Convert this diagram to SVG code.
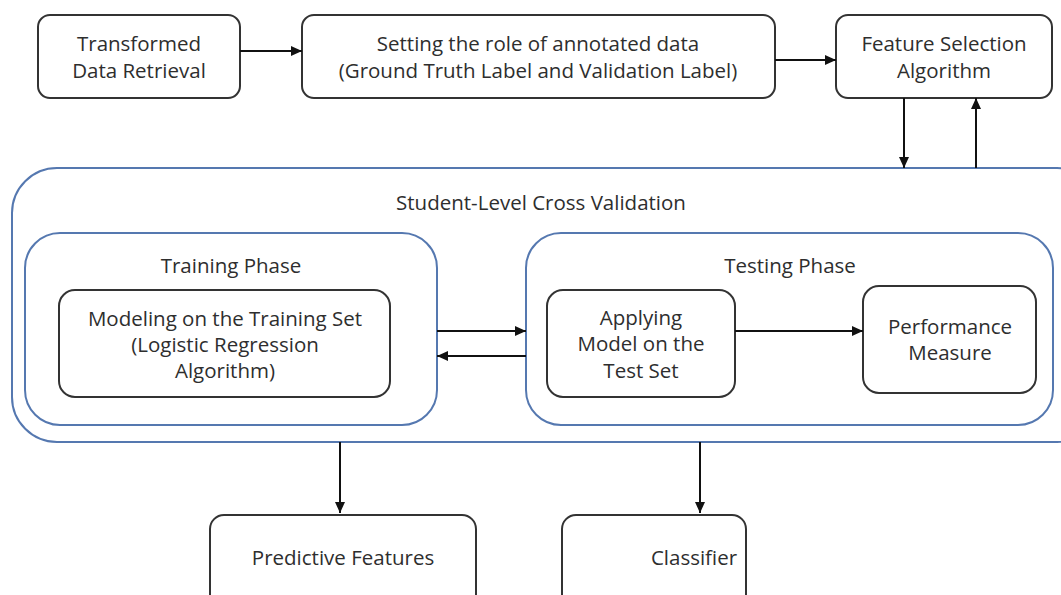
<svg xmlns="http://www.w3.org/2000/svg" width="1061" height="595" viewBox="0 0 1061 595">
<defs>
<marker id="ah" markerWidth="12" markerHeight="12" refX="11" refY="6" orient="auto" markerUnits="userSpaceOnUse">
<path d="M0,1 L11,6 L0,11 Z" fill="#111"/>
</marker>
<style>
.box{fill:#fff;stroke:#333;stroke-width:2}
.grp{fill:none;stroke:#5578b0;stroke-width:2}
.t{font-family:"Open Sans","Liberation Sans",Arial,sans-serif;font-size:20.5px;fill:#2e2e2e;text-anchor:middle}
.c{fill:none;stroke:#111;stroke-width:2;marker-end:url(#ah)}
</style>
</defs>
<rect width="1061" height="595" fill="#fff"/>
<g id="cross-validation">
<rect class="grp" x="12" y="168" width="1090" height="274" rx="45"/>
<text class="t" x="541" y="210">Student-Level Cross Validation</text>
</g>
<g id="training-phase">
<rect class="grp" x="25" y="233" width="412" height="192" rx="35"/>
<text class="t" x="231" y="273">Training Phase</text>
</g>
<g id="testing-phase">
<rect class="grp" x="526" y="233" width="527" height="192" rx="35"/>
<text class="t" x="790" y="273">Testing Phase</text>
</g>
<g id="transformed">
<rect class="box" x="38" y="15" width="202" height="83" rx="12"/>
<text class="t" x="139" y="51">Transformed</text>
<text class="t" x="139" y="78">Data Retrieval</text>
</g>
<g id="setting-role">
<rect class="box" x="302" y="15" width="473" height="83" rx="12"/>
<text class="t" x="538" y="51">Setting the role of annotated data</text>
<text class="t" x="538" y="78">(Ground Truth Label and Validation Label)</text>
</g>
<g id="feature-selection">
<rect class="box" x="836" y="15" width="216" height="83" rx="12"/>
<text class="t" x="944" y="51">Feature Selection</text>
<text class="t" x="944" y="78">Algorithm</text>
</g>
<g id="modeling">
<rect class="box" x="59" y="290" width="331" height="107" rx="16"/>
<text class="t" x="225" y="326">Modeling on the Training Set</text>
<text class="t" x="225" y="352">(Logistic Regression</text>
<text class="t" x="225" y="378">Algorithm)</text>
</g>
<g id="applying">
<rect class="box" x="547" y="290" width="188" height="107" rx="16"/>
<text class="t" x="641" y="325">Applying</text>
<text class="t" x="641" y="351">Model on the</text>
<text class="t" x="641" y="378">Test Set</text>
</g>
<g id="performance">
<rect class="box" x="863" y="286" width="173" height="107" rx="16"/>
<text class="t" x="950" y="334">Performance</text>
<text class="t" x="950" y="360">Measure</text>
</g>
<g id="predictive-features">
<rect class="box" x="210" y="515" width="266" height="95" rx="14"/>
<text class="t" x="343" y="565">Predictive Features</text>
</g>
<g id="classifier">
<rect class="box" x="562" y="515" width="184" height="95" rx="14"/>
<text class="t" x="694" y="565">Classifier</text>
</g>
<g id="connectors">
<line class="c" x1="240" y1="51" x2="302" y2="51"/>
<line class="c" x1="775" y1="60" x2="836" y2="60"/>
<line class="c" x1="904" y1="98" x2="904" y2="168"/>
<line class="c" x1="976" y1="168" x2="976" y2="98"/>
<line class="c" x1="437" y1="331" x2="526" y2="331"/>
<line class="c" x1="526" y1="356" x2="437" y2="356"/>
<line class="c" x1="735" y1="331" x2="863" y2="331"/>
<line class="c" x1="340" y1="442" x2="340" y2="513"/>
<line class="c" x1="700" y1="442" x2="700" y2="513"/>
</g>
</svg>
